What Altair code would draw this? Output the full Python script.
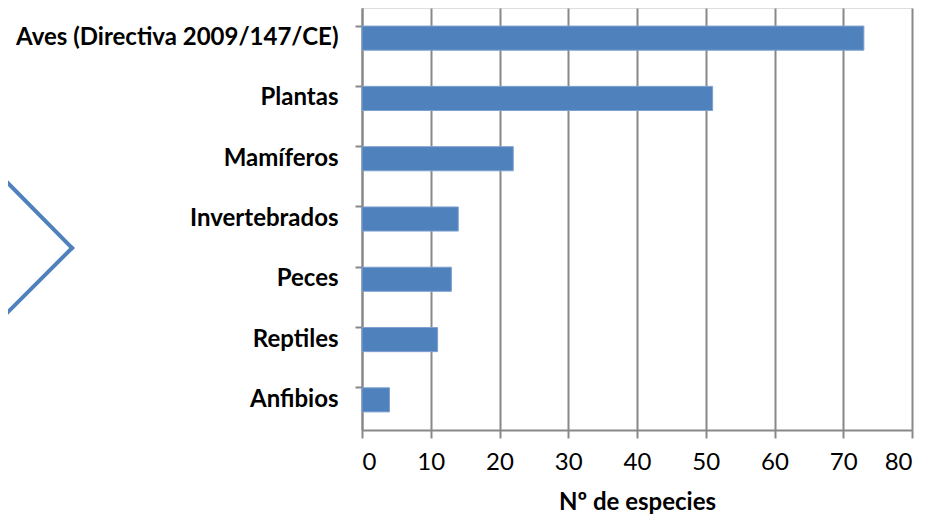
import altair as alt
import pandas as pd

categories = ["Aves (Directiva 2009/147/CE)", "Plantas", "Mamíferos",
              "Invertebrados", "Peces", "Reptiles", "Anfibios"]
values = [73, 51, 22, 14, 13, 11, 4]
x_ticks = [0, 10, 20, 30, 40, 50, 60, 70, 80]

df = pd.DataFrame({"cat": categories, "val": values})

FONT = "Lato"
GREY = "#888888"
BLUE = "#4f81bd"
W, H = 550, 422

bars = alt.Chart(df).mark_bar(color=BLUE, stroke="#7ea1d0", strokeWidth=1).encode(
    x=alt.X("val:Q",
            scale=alt.Scale(domain=[0, 80], nice=False),
            axis=alt.Axis(values=x_ticks, title="Nº de especies", grid=True,
                          gridColor=GREY, gridWidth=2, domainColor=GREY, domainWidth=2,
                          tickColor=GREY, tickWidth=2, tickSize=8,
                          labelFont=FONT, labelFontSize=24, labelColor="#000000",
                          labelPadding=12, titleFont=FONT, titleFontSize=24,
                          titleFontWeight="bold", titleColor="#000000", titlePadding=16)),
    y=alt.Y("cat:N", sort=categories,
            scale=alt.Scale(paddingInner=0.6, paddingOuter=0.3),
            axis=alt.Axis(title=None, bandPosition=0,
                          domainColor=GREY, domainWidth=2,
                          tickColor=GREY, tickWidth=2, tickSize=7,
                          labelFont=FONT, labelFontSize=24, labelFontWeight="bold",
                          labelColor="#000000", labelPadding=17, labelLimit=400)),
)

deco = pd.DataFrame({"k": [0]})
arm1 = alt.Chart(deco).mark_rule(color=BLUE, strokeWidth=4, strokeCap="square").encode(
    x=alt.value(-370), y=alt.value(159), x2=alt.value(-290), y2=alt.value(240))
arm2 = alt.Chart(deco).mark_rule(color=BLUE, strokeWidth=4, strokeCap="square").encode(
    x=alt.value(-290), y=alt.value(240), x2=alt.value(-370), y2=alt.value(320))

chart = alt.layer(bars, arm1, arm2).properties(
    width=W, height=H,
    autosize=alt.AutoSizeParams(type="none"),
    padding={"left": 354, "top": 0, "right": 14, "bottom": 96},
).configure_view(stroke=None).configure(background="white")

chart.save("out.html", embed_options={"renderer": "svg", "actions": False})
